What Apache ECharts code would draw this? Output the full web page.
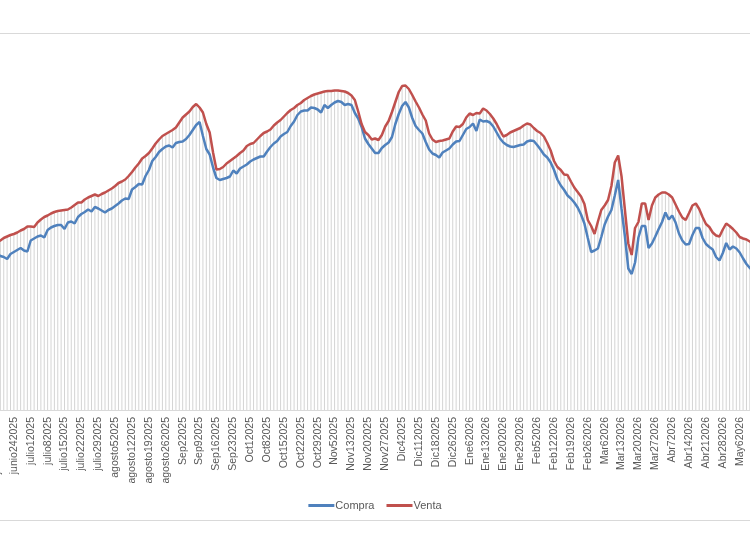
<!DOCTYPE html>
<html>
<head>
<meta charset="utf-8">
<title>Compra / Venta</title>
<script src="https://cdn.jsdelivr.net/npm/echarts@6/dist/echarts.min.js"></script>
<style>
  html, body { margin: 0; padding: 0; background: #fff; }
  #chart { width: 750px; height: 536px; }
</style>
</head>
<body>
<div id="chart"></div>
<script>
// weekly labels, one every 5 trading days
const tickLabels = [
  'junio172025', 'junio242025', 'julio12025', 'julio82025', 'julio152025', 'julio222025', 'julio292025',
  'agosto52025', 'agosto122025', 'agosto192025', 'agosto262025',
  'Sep22025', 'Sep92025', 'Sep162025', 'Sep232025',
  'Oct12025', 'Oct82025', 'Oct152025', 'Oct222025', 'Oct292025',
  'Nov52025', 'Nov132025', 'Nov202025', 'Nov272025',
  'Dic42025', 'Dic112025', 'Dic182025', 'Dic262025',
  'Ene62026', 'Ene132026', 'Ene202026', 'Ene292026',
  'Feb52026', 'Feb122026', 'Feb192026', 'Feb262026',
  'Mar62026', 'Mar132026', 'Mar202026', 'Mar272026',
  'Abr72026', 'Abr142026', 'Abr212026', 'Abr282026', 'May62026'
]
const daysPerTick = 5

const compra = [
  156, 154, 153, 151, 156, 158, 160, 162, 159.5, 158.5,
  169.5, 171.5, 173.5, 174.5, 172.5, 180, 182.5, 184, 185, 185,
  181, 187.5, 188.5, 186.5, 193, 196, 198, 200.5, 198.5, 203,
  201.5, 199.5, 197.5, 200, 201.5, 204, 206.5, 209.5, 211.5, 211,
  220.5, 223, 226, 225.5, 234, 240, 249, 253, 258, 261,
  263.5, 264.5, 262.5, 267, 268, 268.5, 271, 275, 280, 285,
  288, 274, 261, 255.5, 242.5, 232, 230, 231, 232, 233.5,
  239.5, 236.5, 241.5, 243.5, 245.5, 248.5, 250.5, 252, 253.5, 253.5,
  258.5, 263, 266.5, 269, 273.5, 276, 278, 284, 288.5, 295,
  298.5, 299.5, 299.5, 302.5, 302, 300.5, 297.5, 305, 302, 305,
  307.5, 309, 308, 305, 306, 305, 297, 291.5, 283, 271.5,
  266, 261.5, 257, 257, 262, 265, 267.5, 273, 286, 296,
  304, 308, 302.5, 292, 284, 280, 276.5, 268, 260.5, 256.5,
  255, 252.5, 257.5, 259.5, 261.5, 265.5, 268.5, 269, 275, 281,
  283, 286.5, 279, 290.5, 288.5, 289, 287.5, 283.5, 277.5, 271.5,
  267.5, 265, 263.5, 263, 264, 265, 265.5, 268.5, 269.5, 269,
  265, 260.5, 255.5, 252.5, 247.5, 240, 230.5, 224.5, 220, 214.5,
  211.5, 207.5, 202.5, 195.5, 186.5, 172, 158, 159.5, 161.5, 173,
  185.5, 193.5, 200, 214.5, 230, 201, 173.5, 141.5, 136, 147.5,
  172.5, 184, 184, 162, 166.5, 173.5, 181, 188, 197.5, 190.5,
  194.5, 187.5, 176.5, 169.5, 165.5, 166, 175, 182, 182, 172,
  166, 163, 160.5, 153, 149.5, 157, 167, 160.5, 163.5, 161.5,
  157.5, 151.5, 146, 142, 139
]

const venta = [
  168.5, 169.5, 172, 173.5, 175, 176, 177.5, 179.5, 181, 183.5,
  183.5, 183, 187.5, 190.5, 193, 194.5, 196.5, 198, 199, 199.5,
  200, 200.5, 202.5, 205, 207.5, 207.5, 210.5, 212.5, 214, 215.5,
  214, 216, 217.5, 219.5, 221.5, 224, 227, 228.5, 230.5, 234,
  238, 242.5, 246.5, 251.5, 254, 257, 261.5, 266.5, 270.5, 274,
  276, 278, 280, 282.5, 287.5, 292.5, 295.5, 298.5, 303, 306,
  302.5, 297.5, 286, 277.5, 257.5, 240.5, 241, 243, 246.5, 249,
  251.5, 254, 257, 259.5, 264, 266, 267, 270.5, 274, 277,
  278.5, 280.5, 284.5, 287.5, 290, 293.5, 297, 300, 302, 305,
  307, 310, 312, 314, 315.5, 316.5, 317.5, 318.5, 319, 319,
  319.5, 319.5, 319, 318.5, 317, 314.5, 310, 298.5, 286, 278,
  275, 270.5, 271.5, 270, 275, 283.5, 289, 298, 308, 318,
  324, 324.5, 321, 315, 308.5, 302.5, 295.5, 289.5, 276.5, 270.5,
  268, 269, 269.5, 270.5, 271.5, 278.5, 283.5, 283, 286, 292.5,
  296.5, 295, 297, 296.5, 301.5, 299.5, 296, 291.5, 286, 279.5,
  273.5, 275, 277.5, 279, 280.5, 282, 284.5, 286.5, 285.5, 282,
  279, 277, 273.5, 267, 259.5, 249, 243, 240, 235.5, 235,
  228.5, 222.5, 218, 213.5, 206, 190, 184, 176, 188.5, 200,
  204.5, 210, 224, 247.5, 254.5, 233.5, 200, 166.5, 155, 182,
  188, 206.5, 206.5, 190, 204.5, 212.5, 215.5, 217.5, 217.5, 215.5,
  212.5, 205.5, 198.5, 192.5, 190, 197, 204.5, 206.5, 201, 193,
  186, 183, 177.5, 174.5, 173.5, 180.5, 186.5, 184, 181, 177.5,
  173, 171.5, 170.5, 168.5, 167
]

// one category per trading day, only the first of each week carries a label
const categories = []
tickLabels.forEach(label => {
  for (let d = 0; d < daysPerTick; d++) {
    categories.push(d === 0 ? label : '')
  }
})

const chart = echarts.init(document.getElementById('chart'))
chart.setOption({
  animation: false,
  backgroundColor: '#fff',
  textStyle: { fontFamily: 'Liberation Sans' },
  // chart area border (cropped at the sides)
  graphic: [{
    type: 'rect',
    silent: true,
    shape: { x: -2, y: 33.5, width: 754, height: 487 },
    style: { fill: 'none', stroke: '#d9d9d9', lineWidth: 1 }
  }],
  grid: {
    left: -4.7,
    right: -4.9,
    top: 45,
    bottom: 126,
    containLabel: false,
    outerBoundsMode: 'none'
  },
  legend: {
    data: ['Compra', 'Venta'],
    top: 495,
    left: 'center',
    icon: 'rect',
    itemWidth: 26,
    itemHeight: 3,
    itemGap: 12,
    textStyle: { color: '#595959', fontSize: 11, padding: [0, 0, 0, -4] }
  },
  xAxis: {
    type: 'category',
    data: categories,
    boundaryGap: true,
    axisLine: { show: true, lineStyle: { color: '#d9d9d9' } },
    axisTick: { show: false },
    axisLabel: {
      interval: daysPerTick - 1,
      rotate: 90,
      margin: 7,
      color: '#595959',
      fontSize: 10.5
    },
    splitLine: { show: false }
  },
  yAxis: {
    type: 'value',
    min: 0,
    max: 365,
    show: false
  },
  series: [{
    // drop lines
    name: 'drop',
    type: 'bar',
    data: venta,
    barWidth: 1,
    silent: true,
    itemStyle: { color: '#d4d4d4' },
    z: 1
  }, {
    name: 'Compra',
    type: 'line',
    data: compra,
    showSymbol: false,
    lineStyle: { color: '#4F81BD', width: 2.5 },
    itemStyle: { color: '#4F81BD' },
    z: 3
  }, {
    name: 'Venta',
    type: 'line',
    data: venta,
    showSymbol: false,
    lineStyle: { color: '#C0504D', width: 2.5 },
    itemStyle: { color: '#C0504D' },
    z: 3
  }]
})
</script>
</body>
</html>
